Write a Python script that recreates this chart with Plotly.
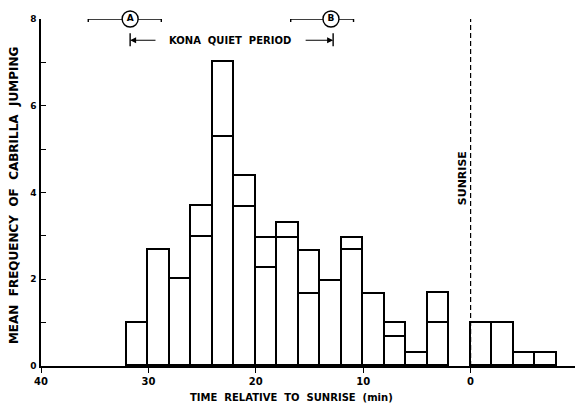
import plotly.graph_objects as go

# ---- data ----
bin_centers = [31, 29, 27, 25, 23, 21, 19, 17, 15, 13, 11, 9, 7, 5, 3, -1, -3, -5, -7]
totals =      [1.0, 2.67, 2.0, 3.7, 7.0, 4.38, 2.96, 3.29, 2.66, 1.97, 2.96, 1.67, 0.98, 0.3, 1.69, 1.0, 1.0, 0.31, 0.31]
lowers =      [1.0, 2.67, 2.0, 2.98, 5.28, 3.66, 2.27, 2.94, 1.67, 1.97, 2.67, 1.67, 0.68, 0.3, 1.0, 1.0, 1.0, 0.31, 0.31]
bin_width = 2

x_tickvals = [40, 30, 20, 10, 0, -10]
x_ticktext = ["40", "30", "20", "10", "0", "10"]
y_tickvals = [0, 2, 4, 6, 8]

# estimates A and B with ranges (minutes before sunrise)
est_labels = ["A", "B"]
est_centers = [31.7, 13.0]
est_left = [35.6, 16.75]
est_right = [28.8, 10.9]
est_level = 8

kona_start = 31.7
kona_end = 12.8
kona_level = 7.51
kona_text_left = 29.2
kona_text_right = 15.5
kona_text_x = 22.4
kona_tick_low = 7.37
kona_tick_high = 7.67

sunrise_x = 0
sunrise_top = 8

uppers = [t - l for t, l in zip(totals, lowers)]

FONT = "DejaVu Sans"
fig = go.Figure()

fig.add_trace(go.Bar(
    x=bin_centers, y=lowers, width=bin_width,
    marker=dict(color="white", line=dict(color="black", width=1.6)),
    showlegend=False, hoverinfo="skip"))
fig.add_trace(go.Bar(
    x=bin_centers, y=[u if u > 0.001 else None for u in uppers], width=bin_width,
    marker=dict(color="white", line=dict(color="black", width=1.6)),
    showlegend=False, hoverinfo="skip"))

# sunrise dashed line
fig.add_trace(go.Scatter(
    x=[sunrise_x, sunrise_x], y=[0, sunrise_top], mode="lines",
    line=dict(color="black", width=1.2, dash="5px,3px"),
    showlegend=False, hoverinfo="skip", cliponaxis=False))

# kona end ticks
for kx in (kona_start, kona_end):
    fig.add_trace(go.Scatter(
        x=[kx, kx], y=[kona_tick_low, kona_tick_high], mode="lines",
        line=dict(color="black", width=1.4),
        showlegend=False, hoverinfo="skip", cliponaxis=False))

# A / B estimates with ranges
fig.add_trace(go.Scatter(
    x=est_centers, y=[est_level] * len(est_centers), mode="markers+text",
    text=est_labels, textposition="middle center",
    textfont=dict(family=FONT, size=9, color="black", weight="bold"),
    marker=dict(symbol="circle", size=16, color="white", line=dict(color="black", width=1.4)),
    error_x=dict(type="data", symmetric=False,
                 array=[l - c for l, c in zip(est_left, est_centers)],
                 arrayminus=[c - r for c, r in zip(est_centers, est_right)],
                 color="black", thickness=1.4, width=3),
    showlegend=False, hoverinfo="skip", cliponaxis=False))

annotations = [
    dict(x=kona_start, y=kona_level, ax=kona_text_left, ay=kona_level,
         xref="x", yref="y", axref="x", ayref="y", text="", showarrow=True,
         arrowhead=2, arrowsize=1, arrowwidth=1.2, arrowcolor="black"),
    dict(x=kona_end, y=kona_level, ax=kona_text_right, ay=kona_level,
         xref="x", yref="y", axref="x", ayref="y", text="", showarrow=True,
         arrowhead=2, arrowsize=1, arrowwidth=1.2, arrowcolor="black"),
    dict(x=kona_text_x, y=kona_level, xref="x", yref="y", showarrow=False,
         text="KONA  QUIET  PERIOD",
         font=dict(family=FONT, size=10, color="black", weight="bold")),
    dict(x=0.8, y=4.33, xref="x", yref="y", showarrow=False, textangle=-90,
         text="SUNRISE", font=dict(family=FONT, size=11, color="black", weight="bold")),
    dict(x=0.466, y=-0.09, xref="paper", yref="paper", showarrow=False,
         text="TIME  RELATIVE  TO  SUNRISE  (min)", yanchor="middle",
         font=dict(family=FONT, size=10, color="black", weight="bold")),
    dict(x=-0.05, y=0.49, xref="paper", yref="paper", showarrow=False, textangle=-90,
         text="MEAN  FREQUENCY  OF  CABRILLA  JUMPING", xanchor="center",
         font=dict(family=FONT, size=12, color="black", weight="bold")),
]

# page body has an 8px margin; compensate so the plot area sits where the reference has it
fig.update_layout(
    width=575, height=398,
    margin=dict(l=33, r=5, t=11, b=40),
    paper_bgcolor="white", plot_bgcolor="white",
    barmode="stack", bargap=0,
    annotations=annotations,
    font=dict(family=FONT, color="black"),
    xaxis=dict(range=[40, -10], tickvals=x_tickvals, ticktext=x_ticktext,
               showline=True, linecolor="black", linewidth=1.6,
               ticks="outside", ticklen=5, tickwidth=1.4, tickcolor="black",
               showgrid=False, zeroline=False,
               tickfont=dict(family=FONT, size=10, color="black", weight="bold")),
    yaxis=dict(range=[0, 8], tickvals=y_tickvals,
               showline=True, linecolor="black", linewidth=1.6,
               ticks="inside", ticklen=5, tickwidth=1.4, tickcolor="black",
               minor=dict(dtick=1, ticks="inside", ticklen=5, tickcolor="black", tickwidth=1.2),
               showgrid=False, zeroline=False, ticklabelstandoff=1,
               tickfont=dict(family=FONT, size=9, color="black", weight="bold")),
)

fig.write_html("out.html")
